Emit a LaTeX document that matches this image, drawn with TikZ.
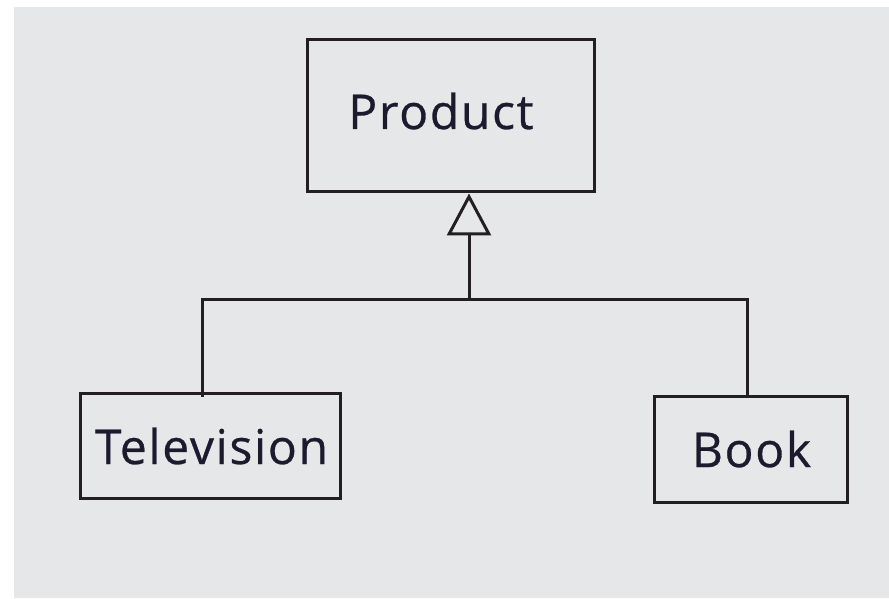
\documentclass[tikz,border=0pt]{standalone}
\usepackage{fontspec}
\setmainfont{Open Sans}[LetterSpace=3.5, FakeBold=0.6]
\usetikzlibrary{arrows.meta}
\definecolor{panel}{HTML}{E6E7E9}
\definecolor{ink}{HTML}{231F20}
\definecolor{txt}{HTML}{1C1B2E}
\begin{document}
\begin{tikzpicture}[x=1pt,y=1pt,
  classbox/.style={draw=ink, line width=3pt, inner sep=0pt},
  lbl/.style={text=txt, font=\fontsize{48}{56}\selectfont, inner sep=0pt, anchor=base},
  wire/.style={draw=ink, line width=3pt}]
  \useasboundingbox (0,0) rectangle (889,598);
  \fill[panel] (14,0) rectangle (889,591);
  % class boxes
  \node[classbox, minimum width=287pt, minimum height=152pt] (product) at (450.5,482) {};
  \node[classbox, minimum width=260pt, minimum height=105pt] (tv) at (210,152.5) {};
  \node[classbox, minimum width=193pt, minimum height=106pt] (book) at (750.5,149) {};
  % class names
  \node[lbl] (productname) at (441,469) {Product};
  \node[lbl] (tvname) at (211.5,134) {Television};
  \node[lbl] (bookname) at (751.5,131) {Book};
  % inheritance connectors
  \coordinate (join) at (469,298);
  \coordinate (tvtop) at (202,201);
  \coordinate (bookx) at (747.5,0);
  \draw[wire] (tvtop) |- (join) -| (book.north -| bookx);
  \draw[wire, -{Triangle[open, length=42pt, width=44pt]}] (join) -- (join |- product.south);
\end{tikzpicture}
\end{document}
